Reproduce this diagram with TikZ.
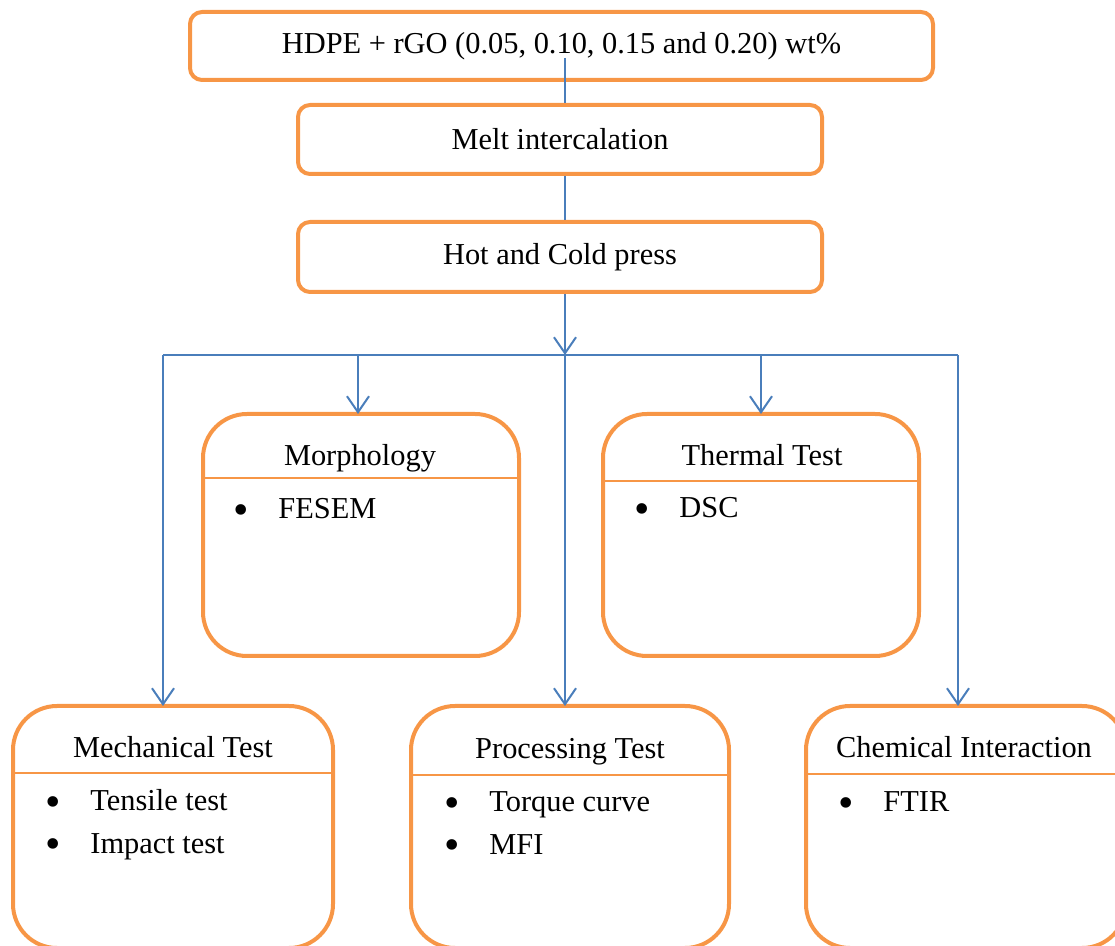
\documentclass[tikz,border=0pt]{standalone}
\usepackage{fontspec}
\setmainfont{Liberation Serif}
\usepackage{xcolor}
\usepackage{graphicx}
\usepackage{tikz}
\usetikzlibrary{arrows.meta}

\definecolor{boxorange}{HTML}{F79646}
\definecolor{lineblue}{HTML}{4A7EBB}
\newcommand{\bul}{\makebox[22.5pt][l]{\raisebox{-2.8pt}{\scalebox{1.45}{\textbullet}}}}

\tikzset{
  stepbox/.style={draw=boxorange, line width=2pt, rounded corners=6pt, inner sep=0pt},
  testbox/.style={draw=boxorange, line width=2pt, rounded corners=22pt, inner sep=0pt,
    minimum height=121pt},
  title/.style={anchor=base, inner sep=0pt},
  entry/.style={anchor=base west, inner sep=0pt},
  rule/.style={draw=boxorange, line width=0.8pt},
  link/.style={draw=lineblue, line width=1pt},
  arr/.style={link, -{Straight Barb[length=8pt,width=11pt]}}
}

\begin{document}
\begin{tikzpicture}[x=0.5pt, y=-0.5pt, font=\fontsize{15.2}{18}\selectfont]
      \clip (0,0) rectangle (1115,946);

      % process chain
      \node (blend) [stepbox, minimum width=371.5pt, minimum height=34pt] at (561.5,46) {HDPE + rGO (0.05, 0.10, 0.15 and 0.20) wt\%};
      \node (melt) [stepbox, minimum width=262pt, minimum height=34.5pt] at (560,139.5) {Melt intercalation};
      \node (press) [stepbox, minimum width=262pt, minimum height=35pt] at (560,257) {Hot and Cold press};

      % test boxes
      \node (morph) [testbox, minimum width=158pt] at (361,535) {};
      \node (therm) [testbox, minimum width=158pt] at (761,535) {};
      \node (mech) [testbox, minimum width=160pt] at (173,827) {};
      \node (proc) [testbox, minimum width=159pt] at (570,827) {};
      \node (chem) [testbox, minimum width=160pt] at (966,827) {};

      \node (morphT) [title] at (360,466) {Morphology};
      \node (thermT) [title] at (762,466) {Thermal Test};
      \node (mechT) [title] at (173,757) {Mechanical Test};
      \node (procT) [title] at (570,758) {Processing Test};
      \node (chemT) [title] at (964,757) {Chemical Interaction};

      \draw[rule] (morph.west |- 0,478) -- (morph.east |- 0,478);
      \draw[rule] (therm.west |- 0,481) -- (therm.east |- 0,481);
      \draw[rule] (mech.west |- 0,773) -- (mech.east |- 0,773);
      \draw[rule] (proc.west |- 0,775) -- (proc.east |- 0,775);
      \draw[rule] (chem.west |- 0,774) -- (chem.east |- 0,774);

      \node (fesem) [entry] at (233,519) {\bul FESEM};
      \node (dsc) [entry] at (634,518) {\bul DSC};
      \node (tensile) [entry] at (45,811) {\bul Tensile test};
      \node (impact) [entry] at (45,853) {\bul Impact test};
      \node (torque) [entry] at (444,812) {\bul Torque curve};
      \node (mfi) [entry] at (444,854) {\bul MFI};
      \node (ftir) [entry] at (838,812) {\bul FTIR};

      % connectors
      \coordinate (feed) at (565,58);
      \coordinate (split) at (565,355);
      \coordinate (mechIn) at (163,706);
      \coordinate (morphIn) at (358,414);
      \coordinate (procIn) at (565,706);
      \coordinate (thermIn) at (761,414);
      \coordinate (chemIn) at (958,706);

      \draw[link] (feed) -- (feed |- melt.north);
      \draw[link] (feed |- melt.south) -- (feed |- press.north);
      \draw[arr] (split |- press.south) -- (split);
      \draw[link] (split -| mechIn) -- (split -| chemIn);
      \draw[arr] (split -| mechIn) -- (mechIn);
      \draw[arr] (split -| morphIn) -- (morphIn);
      \draw[arr] (split) -- (procIn);
      \draw[arr] (split -| thermIn) -- (thermIn);
      \draw[arr] (split -| chemIn) -- (chemIn);
    \end{tikzpicture}
\end{document}
